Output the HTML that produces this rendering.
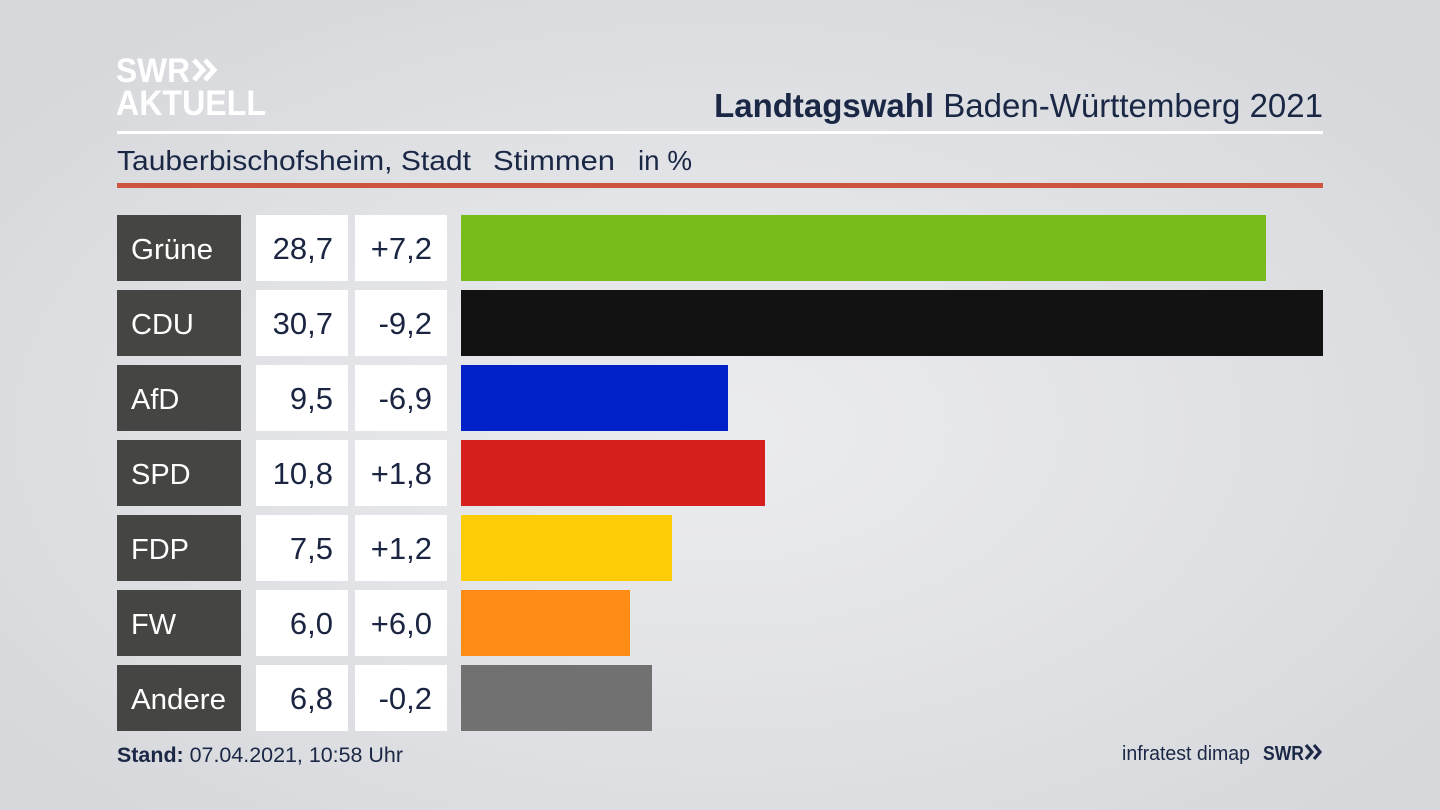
<!DOCTYPE html>
<html><head><meta charset="utf-8"><style>
html,body{margin:0;padding:0;width:1440px;height:810px;overflow:hidden;}
body{background:radial-gradient(ellipse 900px 520px at 720px 430px,#ebecef 0%,#e3e4e8 45%,#d6d8dc 100%);}
svg{position:absolute;left:0;top:0;font-family:"Liberation Sans",sans-serif;}
</style></head><body>
<svg width="1440" height="810" viewBox="0 0 1440 810" xmlns="http://www.w3.org/2000/svg">
<!-- logo -->
<text x="116" y="82" font-size="34" font-weight="bold" fill="#ffffff" textLength="74" lengthAdjust="spacingAndGlyphs">SWR</text>
<path d="M194 60 L203 70 L194 80 M205 60 L214 70 L205 80" stroke="#ffffff" stroke-width="5" fill="none" stroke-linejoin="miter"/>
<text x="116" y="115" font-size="35" font-weight="bold" fill="#ffffff" textLength="150" lengthAdjust="spacingAndGlyphs">AKTUELL</text>
<!-- title -->
<text x="1323" y="117" font-size="33" fill="#1a2745" text-anchor="end"><tspan font-weight="bold">Landtagswahl</tspan> Baden-Württemberg 2021</text>
<rect x="117" y="131" width="1206" height="3" fill="#ffffff"/>
<text x="117" y="170" font-size="28" fill="#1a2745" textLength="354" lengthAdjust="spacingAndGlyphs">Tauberbischofsheim, Stadt</text>
<text x="493" y="170" font-size="28" fill="#1a2745" textLength="122" lengthAdjust="spacingAndGlyphs">Stimmen</text>
<text x="638" y="170" font-size="28" fill="#1a2745" textLength="54" lengthAdjust="spacingAndGlyphs">in %</text>
<rect x="117" y="183" width="1206" height="5" fill="#cd5540"/>
<!-- rows -->
<g font-size="31">
<g transform="translate(0,215)">
<rect x="117" width="124" height="66" fill="#454543"/><rect x="256" width="92" height="66" fill="#fff"/><rect x="355" width="92" height="66" fill="#fff"/>
<rect x="461" width="805" height="66" fill="#78bc1c"/>
<text x="131" y="44" fill="#fff" font-size="29" textLength="82" lengthAdjust="spacingAndGlyphs">Grüne</text>
<text x="333" y="44" fill="#1b2541" text-anchor="end">28,7</text><text x="432" y="44" fill="#1b2541" text-anchor="end">+7,2</text>
</g>
<g transform="translate(0,290)">
<rect x="117" width="124" height="66" fill="#454543"/><rect x="256" width="92" height="66" fill="#fff"/><rect x="355" width="92" height="66" fill="#fff"/>
<rect x="461" width="862" height="66" fill="#121212"/>
<text x="131" y="44" fill="#fff" font-size="29">CDU</text>
<text x="333" y="44" fill="#1b2541" text-anchor="end">30,7</text><text x="432" y="44" fill="#1b2541" text-anchor="end">-9,2</text>
</g>
<g transform="translate(0,365)">
<rect x="117" width="124" height="66" fill="#454543"/><rect x="256" width="92" height="66" fill="#fff"/><rect x="355" width="92" height="66" fill="#fff"/>
<rect x="461" width="267" height="66" fill="#0021c8"/>
<text x="131" y="44" fill="#fff" font-size="29">AfD</text>
<text x="333" y="44" fill="#1b2541" text-anchor="end">9,5</text><text x="432" y="44" fill="#1b2541" text-anchor="end">-6,9</text>
</g>
<g transform="translate(0,440)">
<rect x="117" width="124" height="66" fill="#454543"/><rect x="256" width="92" height="66" fill="#fff"/><rect x="355" width="92" height="66" fill="#fff"/>
<rect x="461" width="304" height="66" fill="#d61f1f"/>
<text x="131" y="44" fill="#fff" font-size="29">SPD</text>
<text x="333" y="44" fill="#1b2541" text-anchor="end">10,8</text><text x="432" y="44" fill="#1b2541" text-anchor="end">+1,8</text>
</g>
<g transform="translate(0,515)">
<rect x="117" width="124" height="66" fill="#454543"/><rect x="256" width="92" height="66" fill="#fff"/><rect x="355" width="92" height="66" fill="#fff"/>
<rect x="461" width="211" height="66" fill="#ffcc08"/>
<text x="131" y="44" fill="#fff" font-size="29">FDP</text>
<text x="333" y="44" fill="#1b2541" text-anchor="end">7,5</text><text x="432" y="44" fill="#1b2541" text-anchor="end">+1,2</text>
</g>
<g transform="translate(0,590)">
<rect x="117" width="124" height="66" fill="#454543"/><rect x="256" width="92" height="66" fill="#fff"/><rect x="355" width="92" height="66" fill="#fff"/>
<rect x="461" width="169" height="66" fill="#ff8c14"/>
<text x="131" y="44" fill="#fff" font-size="29">FW</text>
<text x="333" y="44" fill="#1b2541" text-anchor="end">6,0</text><text x="432" y="44" fill="#1b2541" text-anchor="end">+6,0</text>
</g>
<g transform="translate(0,665)">
<rect x="117" width="124" height="66" fill="#454543"/><rect x="256" width="92" height="66" fill="#fff"/><rect x="355" width="92" height="66" fill="#fff"/>
<rect x="461" width="191" height="66" fill="#717172"/>
<text x="131" y="44" fill="#fff" font-size="29" textLength="95" lengthAdjust="spacingAndGlyphs">Andere</text>
<text x="333" y="44" fill="#1b2541" text-anchor="end">6,8</text><text x="432" y="44" fill="#1b2541" text-anchor="end">-0,2</text>
</g>
</g>
<!-- footer -->
<text x="117" y="762" font-size="21" fill="#1a2745" textLength="286" lengthAdjust="spacingAndGlyphs"><tspan font-weight="bold">Stand:</tspan> 07.04.2021, 10:58 Uhr</text>
<text x="1122" y="760" font-size="20" fill="#1a2745" textLength="128" lengthAdjust="spacingAndGlyphs">infratest dimap</text>
<text x="1263" y="760" font-size="20" font-weight="bold" fill="#1a2745" textLength="41" lengthAdjust="spacingAndGlyphs">SWR</text>
<path d="M1306 745 L1312 752 L1306 759 M1314 745 L1320 752 L1314 759" stroke="#1a2745" stroke-width="3.2" fill="none"/>
</svg>
</body></html>
